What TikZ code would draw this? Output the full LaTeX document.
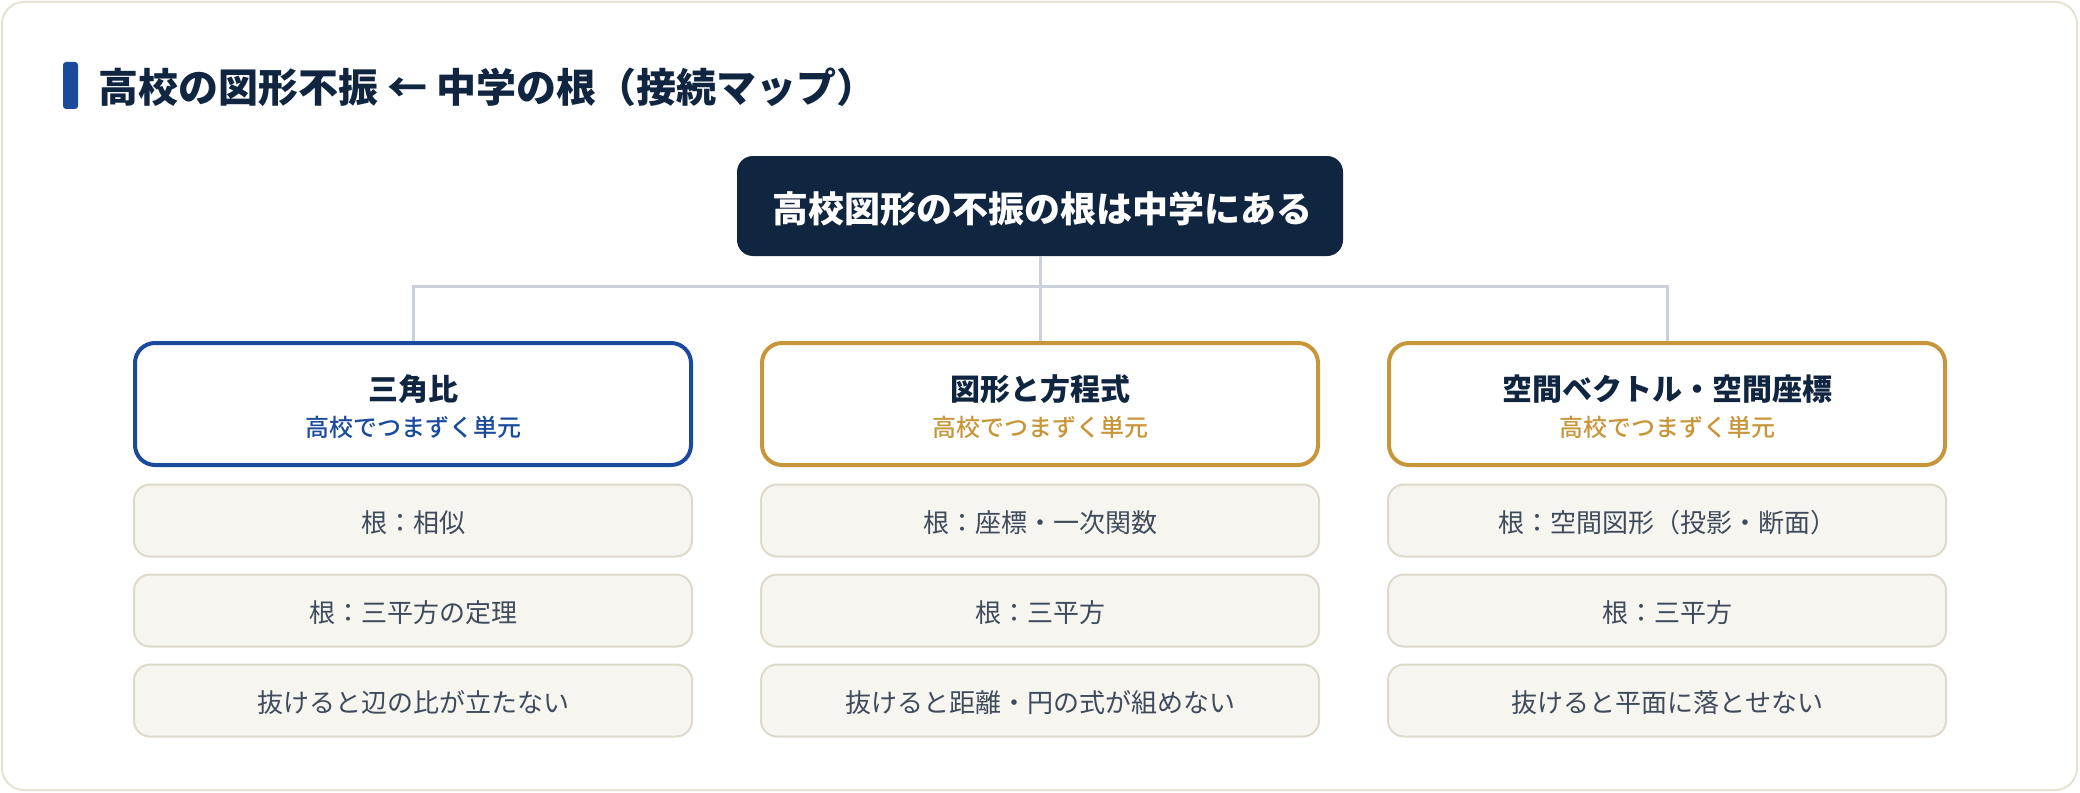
\documentclass[tikz,border=0pt]{standalone}
\usepackage{fontspec}
\setmainfont{Noto Sans CJK JP}
\newfontfamily\medfont{Noto Sans CJK JP Medium}
\usetikzlibrary{calc}
\definecolor{navy}{HTML}{0F2540}
\definecolor{ublue}{HTML}{1A4A9C}
\definecolor{gold}{HTML}{C8963A}
\definecolor{conncol}{HTML}{CBD1DA}
\definecolor{subfill}{HTML}{F6F5F0}
\definecolor{subline}{HTML}{DDD9CB}
\definecolor{subtext}{HTML}{3F4B5B}
\definecolor{framecol}{HTML}{E5E2D4}
\tikzset{
  px/.style={x=0.5pt,y=-0.5pt},
  topbox/.style={draw=none,fill=navy,rounded corners=8pt,minimum width=303pt,minimum height=50pt,inner sep=0pt},
  headbox/.style={draw=#1,fill=white,line width=2pt,rounded corners=10pt,minimum width=278pt,minimum height=61pt,inner sep=0pt},
  subbox/.style={draw=subline,fill=subfill,line width=1pt,rounded corners=8pt,minimum width=279pt,minimum height=36pt,inner sep=0pt},
  conn/.style={draw=conncol,line width=1.5pt},
  toptxt/.style={anchor=base,inner sep=0pt,text=white,font=\fontsize{18pt}{20pt}\selectfont\bfseries},
  headtxt/.style={anchor=base,inner sep=0pt,text=navy,font=\fontsize{15pt}{17pt}\selectfont\bfseries},
  headsub/.style={anchor=base,inner sep=0pt,text=#1,font=\fontsize{12pt}{14pt}\selectfont\medfont},
  subtxt/.style={anchor=base,inner sep=0pt,text=subtext,font=\fontsize{13pt}{15pt}\selectfont},
}
\begin{document}
\begin{tikzpicture}[px]
\useasboundingbox (0,0) rectangle (2080,792);
\draw[framecol,line width=1pt,fill=white,rounded corners=11pt] (2,2) rectangle (2077,790);
% title
\fill[ublue,rounded corners=1.5pt] (63,62) rectangle (78,109);
\node[anchor=base west,inner sep=0pt,text=navy,font=\fontsize{20pt}{22pt}\selectfont\bfseries] (title) at (98,103) {高校の図形不振 ← 中学の根（接続マップ）};
% top node
\node[topbox] (top) at (1040,206) {};
\node[toptxt] (toptext) at ($(top.center)+(2,16)$) {高校図形の不振の根は中学にある};
% head boxes
\node[headbox=ublue] (h1) at (413,404) {};
\node[headbox=gold] (h2) at (1040,404) {};
\node[headbox=gold] (h3) at (1667,404) {};
\coordinate (bus) at (1040,286);
\draw[conn] (top.south) -- (h2.north);
\draw[conn] (h1.north) -- (h1.north |- bus) -- (h3.north |- bus) -- (h3.north);
\node[headtxt] (h1t) at ($(h1.center)+(0,-4)$) {三角比};
\node[headsub=ublue] (h1s) at ($(h1.center)+(0,32)$) {高校でつまずく単元};
\node[headtxt] (h2t) at ($(h2.center)+(0,-4)$) {図形と方程式};
\node[headsub=gold] (h2s) at ($(h2.center)+(0,32)$) {高校でつまずく単元};
\node[headtxt] (h3t) at ($(h3.center)+(0,-4)$) {空間ベクトル・空間座標};
\node[headsub=gold] (h3s) at ($(h3.center)+(0,32)$) {高校でつまずく単元};
% sub boxes
\foreach \c/\x in {1/413,2/1040,3/1667}{
  \node[subbox] (s\c1) at (\x,520.5) {};
  \node[subbox] (s\c2) at (\x,610.5) {};
  \node[subbox] (s\c3) at (\x,700.5) {};
}
\node[subtxt] (t11) at ($(s11.center)+(0,12)$) {根：相似};
\node[subtxt] (t12) at ($(s12.center)+(0,12)$) {根：三平方の定理};
\node[subtxt] (t13) at ($(s13.center)+(0,12)$) {抜けると辺の比が立たない};
\node[subtxt] (t21) at ($(s21.center)+(0,12)$) {根：座標・一次関数};
\node[subtxt] (t22) at ($(s22.center)+(0,12)$) {根：三平方};
\node[subtxt] (t23) at ($(s23.center)+(0,12)$) {抜けると距離・円の式が組めない};
\node[subtxt] (t31) at ($(s31.center)+(0,12)$) {根：空間図形（投影・断面）};
\node[subtxt] (t32) at ($(s32.center)+(0,12)$) {根：三平方};
\node[subtxt] (t33) at ($(s33.center)+(0,12)$) {抜けると平面に落とせない};
\end{tikzpicture}
\end{document}
